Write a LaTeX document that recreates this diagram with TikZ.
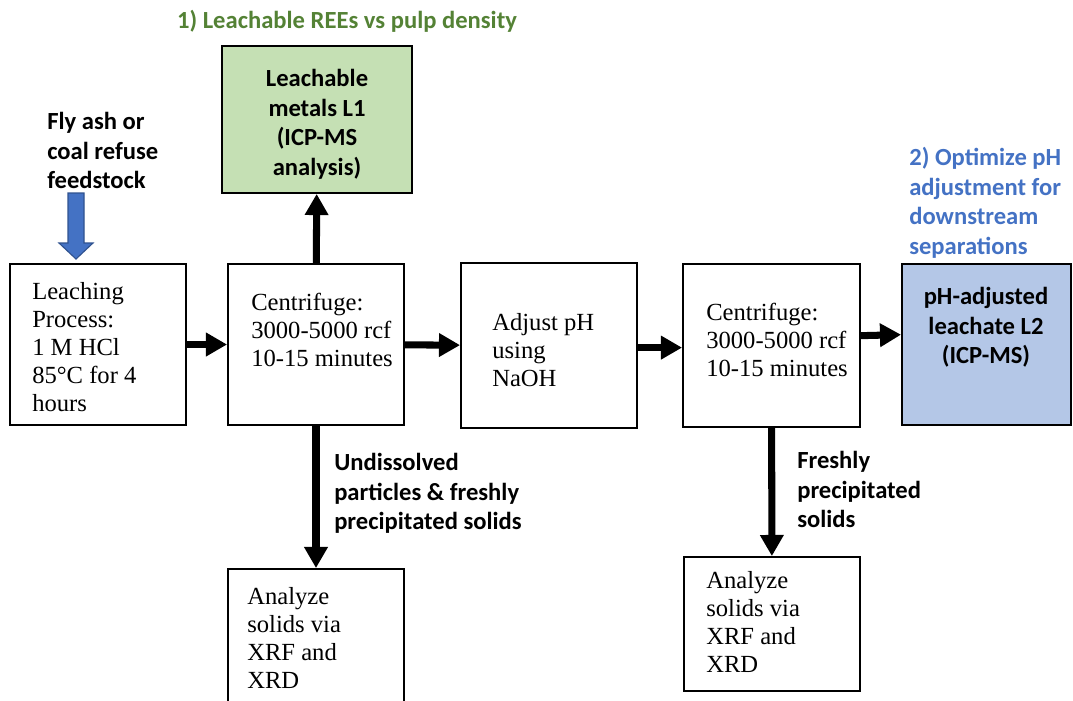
\documentclass[tikz,border=0pt]{standalone}
\usepackage{fontspec}
\setmainfont{Liberation Serif}
\setsansfont{Carlito}
\usetikzlibrary{arrows.meta}
\definecolor{boxgreen}{HTML}{C5E0B4}
\definecolor{boxblue}{HTML}{B4C7E7}
\definecolor{titlegreen}{HTML}{548235}
\definecolor{titleblue}{HTML}{4472C4}
\definecolor{feededge}{HTML}{2F528F}

\begin{document}
\begin{tikzpicture}[x=0.025cm, y=-0.025cm]

\useasboundingbox (0,0) rectangle (1073,700);
\tikzset{box/.style = {draw, line width=1.3pt, minimum width=4.4cm, inner sep=0pt}}
\tikzset{serif/.style = {font=\fontsize{17.5}{20}\selectfont, align=left, anchor=north west, inner sep=0pt}}
\tikzset{bold/.style = {font=\sffamily\bfseries\fontsize{17.5}{21}\selectfont, align=left, anchor=north west, inner sep=0pt}}
\tikzset{flow/.style = {line width=5pt, -{Triangle[width=16pt,length=15pt]}}}
% boxes
\node[box, minimum height=4.025cm] (leach) at (98,344.5) {};
\node[box, minimum height=4.025cm] (cent1) at (316,344.5) {};
\node[box, minimum height=4.125cm] (adjust) at (549,345.5) {};
\node[box, minimum width=4.425cm, minimum height=4.075cm] (cent2) at (771.5,345.5) {};
\node[box, fill=boxblue, minimum width=4.225cm, minimum height=4.025cm] (leachL2) at (986.5,344.5) {};
\node[box, fill=boxgreen, minimum width=4.75cm, minimum height=3.675cm] (metalsL1) at (317,119.5) {};
\node[box, minimum height=3.775cm] (solids1) at (316,644.5) {};
\node[box, minimum height=3.35cm] (solids2) at (772,624) {};
% texts
\node[bold, anchor=north, text=titlegreen] (title1) at (347,10) {1) Leachable REEs vs pulp density};
\node[bold, anchor=north, align=center] (metalsL1txt) at (317,69) {Leachable\\metals L1\\(ICP-MS\\analysis)};
\node[bold] (feed) at (47,112) {Fly ash or\\coal refuse\\feedstock};
\node[bold, text=titleblue] (title2) at (909,147) {2) Optimize pH\\adjustment for\\downstream\\separations};
\node[bold, anchor=north, align=center] (leachL2txt) at (986,287) {pH-adjusted\\leachate L2\\(ICP-MS)};
\node[serif] (leachtxt) at (32,282) {Leaching\\Process:\\1 M HCl\\85°C for 4\\hours};
\node[serif] (cent1txt) at (251,293) {Centrifuge:\\3000-5000 rcf\\10-15 minutes};
\node[serif] (adjusttxt) at (492,313) {Adjust pH\\using\\NaOH};
\node[serif] (cent2txt) at (706,303) {Centrifuge:\\3000-5000 rcf\\10-15 minutes};
\node[serif] (solids1txt) at (247,587) {Analyze\\solids via\\XRF and\\XRD};
\node[serif] (solids2txt) at (706,571) {Analyze\\solids via\\XRF and\\XRD};
\node[bold] (residue1) at (334,453) {Undissolved\\particles \& freshly\\precipitated solids};
\node[bold] (residue2) at (797,451) {Freshly\\precipitated\\solids};
% feed arrow
\draw[fill=titleblue, draw=feededge, line width=0.8pt] (68,193) -- (84,193) -- (84,243) -- (93,243)
  -- (76,259) -- (59,243) -- (68,243) -- cycle;
% arrows
\draw[flow] (leach) -- (cent1);
\draw[flow] (cent1) -- (adjust);
\draw[flow] ([yshift=-1.5pt]adjust.east) -- ([yshift=-1.5pt]cent2.west);
\draw[flow] ([yshift=7pt]cent2.east) -- ([yshift=7pt]leachL2.west);
\draw[flow] (cent1) -- (metalsL1);
\draw[flow] (cent1) -- (solids1);
\draw[flow] (cent2) -- (solids2);
\end{tikzpicture}
\end{document}
